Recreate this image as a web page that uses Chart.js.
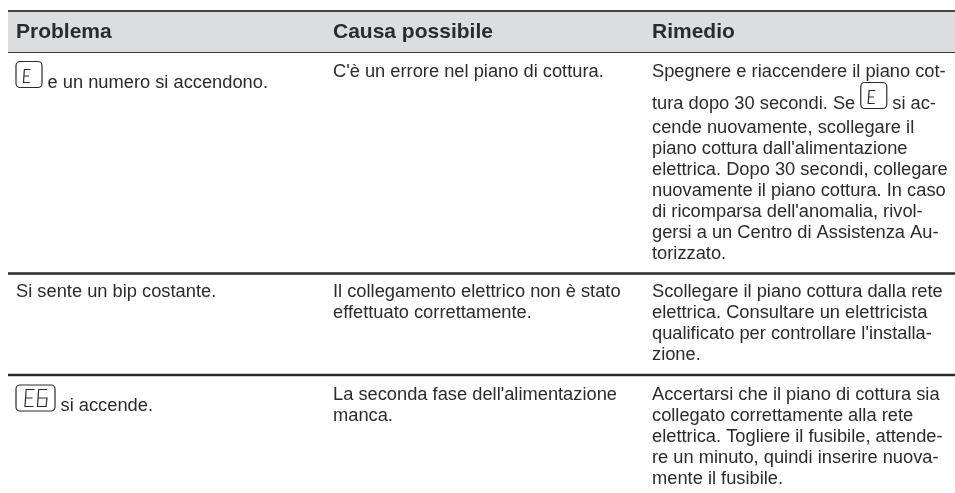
<!DOCTYPE html>
<html lang="it">
<head>
<meta charset="utf-8">
<style>
  html, body { margin: 0; padding: 0; background: #fff; }
  #wrap { width: 955px; height: 493px; }
</style>
<script src="https://cdn.jsdelivr.net/npm/chart.js@4/dist/chart.umd.min.js"></script>
</head>
<body>
<div id="wrap"><canvas id="tabella"></canvas></div>
<script>
/* --- contenuto della tabella --- */
const intestazioni = ["Problema", "Causa possibile", "Rimedio"];

const problemi = [
    ["{E} e un numero si accendono."],
    ["Si sente un bip costante."],
    ["{E6} si accende."],
];
const cause = [
    ["C'è un errore nel piano di cottura."],
    ["Il collegamento elettrico non è stato", "effettuato correttamente."],
    ["La seconda fase dell'alimentazione", "manca."],
];
const rimedi = [
    [
        "Spegnere e riaccendere il piano cot-",
        "tura dopo 30 secondi. Se {E} si ac-",
        "cende nuovamente, scollegare il",
        "piano cottura dall'alimentazione",
        "elettrica. Dopo 30 secondi, collegare",
        "nuovamente il piano cottura. In caso",
        "di ricomparsa dell'anomalia, rivol-",
        "gersi a un Centro di Assistenza Au-",
        "torizzato.",
    ],
    [
        "Scollegare il piano cottura dalla rete",
        "elettrica. Consultare un elettricista",
        "qualificato per controllare l'installa-",
        "zione.",
    ],
    [
        "Accertarsi che il piano di cottura sia",
        "collegato correttamente alla rete",
        "elettrica. Togliere il fusibile, attende-",
        "re un minuto, quindi inserire nuova-",
        "mente il fusibile.",
    ],
];

/* --- geometria --- */
const COL_X = [16, 333, 652];
const ROW_BASE = [76.5, 297, 400];
const HEAD_BASE = 38;
const LINE_H = 21;
const ICON_BEFORE = 11;   // riga con icona: scende
const ICON_AFTER = 3;
const LEFT = 8, RIGHT = 955;

const INK = "#2b2b2b";
const FONT = "'Liberation Sans', Arial, sans-serif";

/* segmenti a 7 barre: punti su griglia 0..1 x 0..2 */
const SEG = {
    E: [[[1, 0], [0.12, 0], [0, 2], [0.9, 2]], [[0.06, 1], [0.8, 1]]],
    6: [[[1, 0], [0.12, 0], [0, 2], [0.9, 2], [1, 1], [0.06, 1]]],
};
const ICONA = {
    1: { w: 26, gx: 7.5, pitch: 0, gw: 7, gy: 8, gh: 6.5 },
    2: { w: 39, gx: 9, pitch: 12.5, gw: 9.5, gy: 4.5, gh: 8.5 },
};

function drawIcon(ctx, x, base, code) {
    const m = ICONA[code.length];
    const top = base - 26;
    ctx.save();
    ctx.strokeStyle = INK;
    ctx.lineWidth = 1.2;
    ctx.beginPath();
    ctx.roundRect(x, top, m.w, 26, 4);
    ctx.stroke();
    [...code].forEach((ch, i) => {
        const gx = x + m.gx + i * m.pitch;
        ctx.beginPath();
        SEG[ch].forEach((path) => {
            path.forEach(([px, py], k) => {
                const X = gx + px * m.gw, Y = top + m.gy + py * m.gh;
                if (k) ctx.lineTo(X, Y); else ctx.moveTo(X, Y);
            });
        });
        ctx.stroke();
    });
    ctx.restore();
    return m.w;
}

function drawLine(ctx, x, base, line) {
    const parts = line.split(/\{(\w+)\}/);
    let cx = x;
    parts.forEach((part, i) => {
        if (i % 2) {
            cx += drawIcon(ctx, cx, base, part) + 5.5;
        } else if (part) {
            const txt = part.trim();
            ctx.fillText(txt, cx, base);
            cx += ctx.measureText(txt).width + 5.5;
        }
    });
}

const testoTabella = {
    id: "testoTabella",
    afterDatasetsDraw(chart) {
        const { ctx, scales: { x, y } } = chart;
        ctx.save();
        ctx.fillStyle = INK;
        ctx.textBaseline = "alphabetic";
        ctx.font = `bold 21px ${FONT}`;
        intestazioni.forEach((t, i) => {
            ctx.fillText(t, x.getPixelForValue(COL_X[i]), y.getPixelForValue(HEAD_BASE));
        });
        ctx.font = `18.3px ${FONT}`;
        [problemi, cause, rimedi].forEach((col, c) => {
            col.forEach((righe, r) => {
                let base = ROW_BASE[r];
                righe.forEach((line) => {
                    const conIcona = line.includes("{");
                    if (conIcona) base += ICON_BEFORE;
                    drawLine(ctx, x.getPixelForValue(COL_X[c]), y.getPixelForValue(base), line);
                    base += LINE_H + (conIcona ? ICON_AFTER : 0);
                });
            });
        });
        ctx.restore();
    },
};

const regola = (yv, width, colore) => ({
    data: [{ x: LEFT, y: yv }, { x: RIGHT, y: yv }],
    showLine: true, pointRadius: 0, borderColor: colore, borderWidth: width, fill: false,
});

new Chart(document.getElementById("tabella"), {
    type: "scatter",
    data: {
        datasets: [
            { ...regola(11, 2, "#47474a"), fill: "+1", backgroundColor: "#dcddde" },
            regola(52, 2, "#38383a"),
            regola(273.5, 2.5, "#2b2b2b"),
            regola(375, 2.5, "#2b2b2b"),
        ],
    },
    options: {
        responsive: true,
        maintainAspectRatio: false,
        animation: false,
        layout: { padding: 0 },
        plugins: { legend: { display: false }, tooltip: { enabled: false } },
        scales: {
            x: { type: "linear", display: false, min: 0, max: 955 },
            y: { type: "linear", display: false, min: 0, max: 493, reverse: true },
        },
    },
    plugins: [testoTabella],
});
</script>
</body>
</html>
